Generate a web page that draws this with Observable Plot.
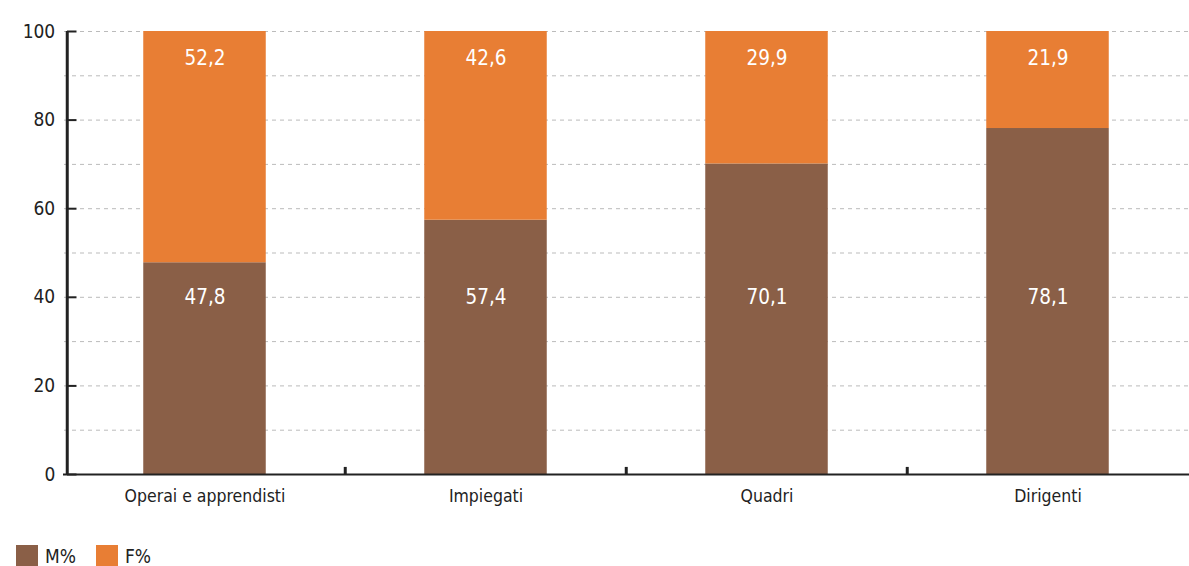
<!DOCTYPE html>
<html><head><meta charset="utf-8">
<script src="https://cdn.jsdelivr.net/npm/d3@7"></script>
<script src="https://cdn.jsdelivr.net/npm/@observablehq/plot@0.6"></script>
<style>
body{margin:0;background:#fff;font-family:'DejaVu Sans Condensed','Liberation Sans Narrow',sans-serif;}
#legend{position:absolute;left:16px;top:545px;display:flex;font-size:19px;color:#222;}
.item{display:flex;align-items:center;margin-right:20px;}
.sw{width:22px;height:22px;margin-right:7px;}
</style></head><body>
<div id="chart"></div>
<div id="legend"></div>
<script>
const categories = ["Operai e apprendisti","Impiegati","Quadri","Dirigenti"];
const maleValues = [47.8,57.4,70.1,78.1];
const femaleValues = [52.2,42.6,29.9,21.9];
const seriesNames = ["M%","F%"];
const colors = ["#8A5F47","#E87E34"];
const yTicks = [0,20,40,60,80,100];
const gridTicks = [10,20,30,40,50,60,70,80,90,100];

const data = [];
categories.forEach((c,i)=>{
  data.push({cat:c, series:"M%", value:maleValues[i]});
  data.push({cat:c, series:"F%", value:femaleValues[i]});
});
const fmt = v => v.toFixed(1).replace(".", ",");
const W = 1189, H = 510, ML = 63, MR = 0, MT = 31, MB = 36;
const step = (W-ML-MR)/categories.length;
const barInset = (step - 123)/2;
const axisOff = 3;
const font = "'DejaVu Sans Condensed','Liberation Sans Narrow',sans-serif";

const chart = Plot.plot({
  width: W, height: H,
  marginLeft: ML, marginRight: MR, marginTop: MT, marginBottom: MB,
  style: {fontFamily: font, fontSize: "18px", color: "#222", background: "#fff"},
  x: {domain: categories, padding: 0, label: null, axis: null},
  y: {domain: [0,100], label: null, axis: null},
  color: {domain: seriesNames, range: colors},
  marks: [
    Plot.ruleY(gridTicks, {x1: () => categories[0], x2: () => categories[3], insetLeft: 0, stroke: "#bbb", strokeDasharray: "4,4", strokeWidth: 1}),
    Plot.barY(data, {x: "cat", y: "value", fill: "series", order: seriesNames, insetLeft: barInset, insetRight: barInset}),
    Plot.text(data.filter(d=>d.series==="M%"), {x: "cat", y: () => 40, text: d => fmt(d.value), fill: "white", fontSize: 20.5}),
    Plot.text(data.filter(d=>d.series==="F%"), {x: "cat", y: () => 100, dy: 27, text: d => fmt(d.value), fill: "white", fontSize: 20.5}),
    Plot.ruleY([0], {stroke: "#222", strokeWidth: 2}),
    Plot.ruleX([0], {x: () => categories[0], dx: -step/2 + axisOff, y1: 0, y2: 100, stroke: "#222", strokeWidth: 3}),
    Plot.tickY(yTicks, {y: d => d, x: () => categories[0], insetLeft: axisOff, insetRight: step - 13, stroke: "#222", strokeWidth: 2}),
    Plot.text(yTicks, {y: d => d, x: () => categories[0], dx: -step/2 - 9, text: d => String(d), textAnchor: "end", fill: "#222", fontSize: 19}),
    Plot.text(categories, {x: d => d, y: () => 0, dy: 22, text: d => d, fill: "#222", fontSize: 17.5}),
    Plot.ruleX(categories.slice(1), {x: d => d, dx: -step/2, y1: 0, y2: 1.6, stroke: "#222", strokeWidth: 3})
  ]
});
document.getElementById("chart").appendChild(chart);

const lg = document.getElementById("legend");
seriesNames.forEach((s,i)=>{
  const it = document.createElement("div"); it.className="item";
  const sw = document.createElement("div"); sw.className="sw"; sw.style.background=colors[i];
  const t = document.createElement("span"); t.textContent = s;
  it.appendChild(sw); it.appendChild(t); lg.appendChild(it);
});
</script></body></html>
